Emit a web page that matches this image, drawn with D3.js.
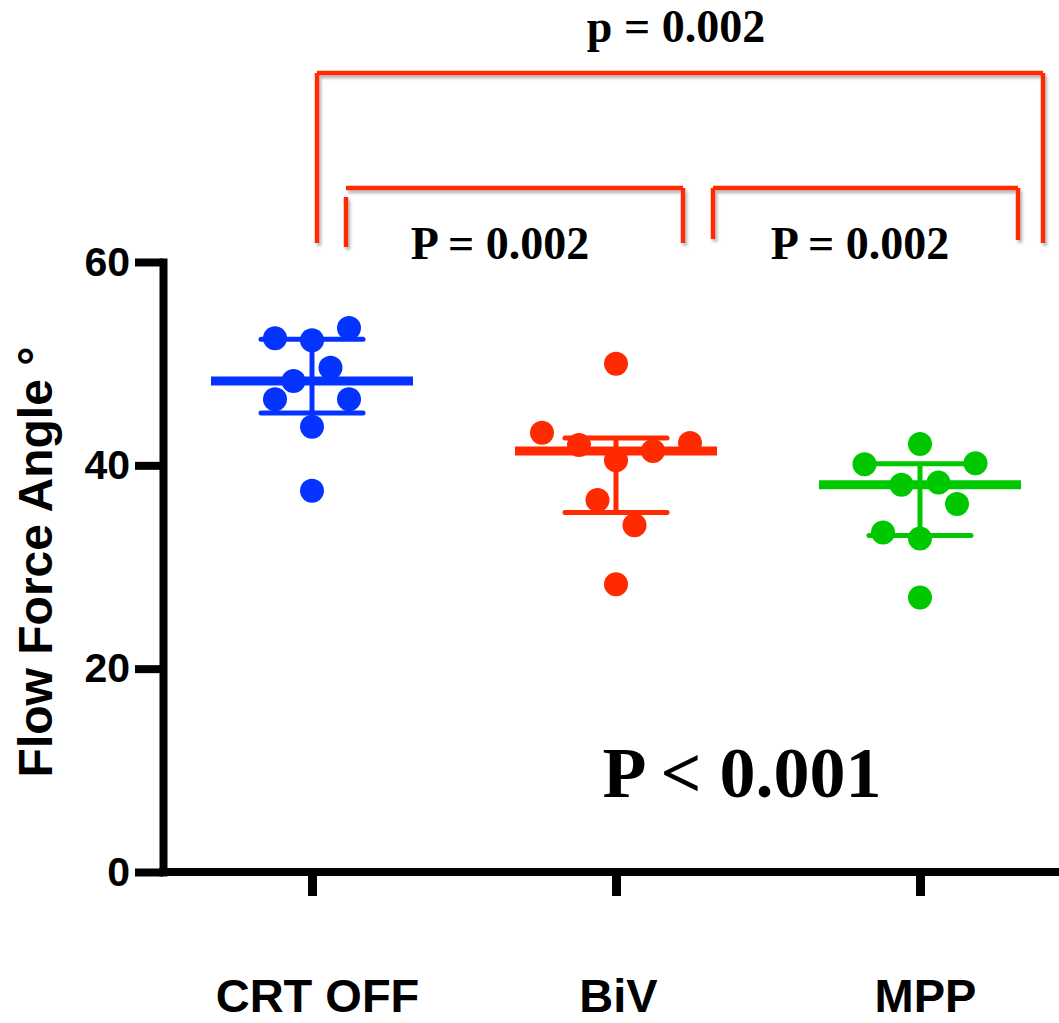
<!DOCTYPE html>
<html>
<head>
<meta charset="utf-8">
<script src="https://cdn.jsdelivr.net/npm/d3@7"></script>
<style>
  html, body { margin: 0; padding: 0; background: #fff; }
  svg { display: block; }
</style>
</head>
<body>
<svg id="chart" width="1059" height="1023"></svg>
<script>
// Groups and their colours
const categories = ["CRT OFF", "BiV", "MPP"];
const colors = ["#0433ff", "#ff2a00", "#00c800"];

// Flow force angle (degrees) for each patient, per pacing mode
const crtOff = [52.5, 52.3, 53.5, 49.6, 48.3, 46.5, 46.5, 43.8, 37.5];
const biv    = [50.0, 43.2, 42.0, 42.2, 41.4, 40.5, 36.6, 34.1, 28.3];
const mpp    = [42.1, 40.1, 40.2, 38.1, 38.3, 36.2, 33.4, 32.8, 27.0];

// Scatter column slot for each point (avoids overlapping dots)
const crtOffSlots = [-2, 0, 2, 1, -1, -2, 2, 0, 0];
const bivSlots    = [0, -4, -2, 4, 2, 0, -1, 1, 0];
const mppSlots    = [0, -3, 3, -1, 1, 2, -2, 0, 0];

// Median with interquartile range
const medians = [48.3, 41.4, 38.1];
const q1s     = [45.15, 35.35, 33.1];
const q3s     = [52.4, 42.7, 40.15];

// Axis ticks
const yTicks = [0, 20, 40, 60];
const yLabel = "Flow Force Angle \u00b0";

// Significance annotations
const pairLabel = "P = 0.002";
const overallPairLabel = "p = 0.002";
const omnibusLabel = "P < 0.001";

const groups = [crtOff, biv, mpp];
const slots = [crtOffSlots, bivSlots, mppSlots];

const svg = d3.select("#chart");

const y = d3.scaleLinear().domain([0, 60]).range([872, 262]);
const x = d3.scalePoint().domain(categories).range([312, 920]);
const slotWidth = 18.5;

// drop shadow for the comparison brackets
const defs = svg.append("defs");
const f = defs.append("filter").attr("id", "shadow")
  .attr("x", "-20%").attr("y", "-20%").attr("width", "140%").attr("height", "140%");
f.append("feDropShadow").attr("dx", 2).attr("dy", 3).attr("stdDeviation", 1.5)
  .attr("flood-color", "#888").attr("flood-opacity", 0.6);

// ---- Y axis
const yAxis = svg.append("g")
  .attr("transform", "translate(163,0)")
  .call(d3.axisLeft(y).tickValues(yTicks).tickSize(28).tickSizeOuter(0).tickPadding(5));
yAxis.select(".domain").attr("stroke", "#000").attr("stroke-width", 8).attr("stroke-linecap", "square");
yAxis.selectAll(".tick line").attr("stroke", "#000").attr("stroke-width", 8);
yAxis.selectAll(".tick text")
  .attr("fill", "#000")
  .style("font-family", "'Liberation Sans', Arial, sans-serif")
  .style("font-weight", "bold")
  .style("font-size", "41px");

// ---- X axis
svg.append("line")
  .attr("x1", 159).attr("x2", 1059)
  .attr("y1", y(0)).attr("y2", y(0))
  .attr("stroke", "#000").attr("stroke-width", 8);

const xAxis = svg.append("g")
  .attr("transform", `translate(0,${y(0)})`)
  .call(d3.axisBottom(x).tickSize(24).tickSizeOuter(0).tickPadding(83));
xAxis.select(".domain").remove();
xAxis.selectAll(".tick line").attr("stroke", "#000").attr("stroke-width", 9);
xAxis.selectAll(".tick text")
  .attr("fill", "#000")
  .attr("dx", (d, i) => [5, 2, 5][i])
  .style("font-family", "'Liberation Sans', Arial, sans-serif")
  .style("font-weight", "bold")
  .style("font-size", "47px");

// ---- Y label
svg.append("text")
  .attr("transform", "translate(52,562) rotate(-90)")
  .attr("text-anchor", "middle")
  .style("font-family", "'Liberation Sans', Arial, sans-serif")
  .style("font-weight", "bold")
  .style("font-size", "48px")
  .text(yLabel);

// ---- Points and summary bars
categories.forEach((cat, i) => {
  const cx = x(cat);
  const g = svg.append("g").attr("fill", colors[i]).attr("stroke", colors[i]);

  g.selectAll("circle")
    .data(groups[i].map((v, j) => ({ v, s: slots[i][j] })))
    .join("circle")
    .attr("cx", d => cx + d.s * slotWidth)
    .attr("cy", d => y(d.v))
    .attr("r", 12)
    .attr("stroke", "none");

  // interquartile whisker
  g.append("line")
    .attr("x1", cx).attr("x2", cx)
    .attr("y1", y(q1s[i])).attr("y2", y(q3s[i]))
    .attr("stroke-width", 5);
  [q1s[i], q3s[i]].forEach(q => {
    g.append("line")
      .attr("x1", cx - 51).attr("x2", cx + 51)
      .attr("y1", y(q)).attr("y2", y(q))
      .attr("stroke-width", 5)
      .attr("stroke-linecap", "round");
  });
  // median
  g.append("line")
    .attr("x1", cx - 101).attr("x2", cx + 101)
    .attr("y1", y(medians[i])).attr("y2", y(medians[i]))
    .attr("stroke-width", 9);
});

// ---- Comparison brackets
const bracketColor = "#ff2a00";
const br = svg.append("g")
  .attr("fill", "none")
  .attr("stroke", bracketColor)
  .attr("stroke-width", 4.5)
  .attr("filter", "url(#shadow)");

const seg = (x1, y1, x2, y2) => br.append("line")
  .attr("x1", x1).attr("y1", y1).attr("x2", x2).attr("y2", y2);

// CRT OFF vs MPP
seg(317, 73, 1043, 73);
seg(317, 73, 317, 243);
seg(1043, 73, 1043, 243);
// CRT OFF vs BiV
seg(346, 188, 683, 188);
seg(346, 197, 346, 247);
seg(683, 188, 683, 243);
// BiV vs MPP
seg(713, 188, 1018, 188);
seg(713, 188, 713, 239);
seg(1018, 188, 1018, 240);

const serif = "'Liberation Serif', 'Times New Roman', serif";
const ann = (tx, ty, size, str) => svg.append("text")
  .attr("x", tx).attr("y", ty)
  .attr("text-anchor", "middle")
  .style("font-family", serif)
  .style("font-weight", "bold")
  .style("font-size", size + "px")
  .text(str);

ann(676, 42, 46, overallPairLabel);
ann(500, 259, 46, pairLabel);
ann(860, 259, 46, pairLabel);
ann(742, 797, 72, omnibusLabel);
</script>
</body>
</html>
